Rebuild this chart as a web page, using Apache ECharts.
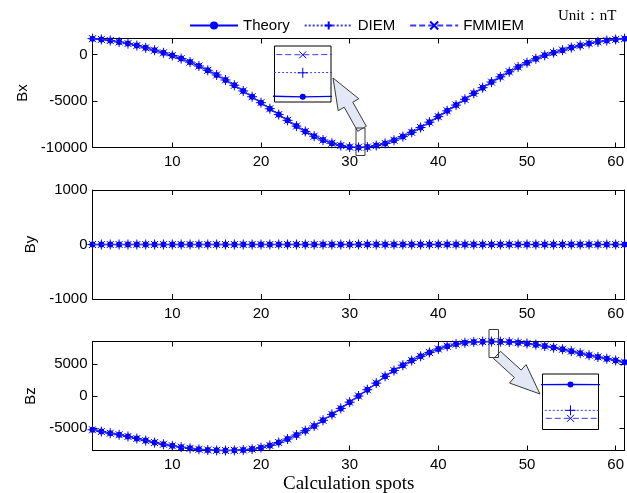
<!DOCTYPE html>
<html>
<head>
<meta charset="utf-8">
<script src="https://cdn.jsdelivr.net/npm/echarts@6/dist/echarts.min.js"></script>
<style>html,body{margin:0;padding:0;background:#fff}#c{width:627px;height:493px}</style>
</head>
<body>
<div id="c"></div>
<script>
// ---------------- data ----------------
const spots = [1,2,3,4,5,6,7,8,9,10,11,12,13,14,15,16,17,18,19,20,21,22,23,24,25,26,27,28,29,30,31,32,33,34,35,36,37,38,39,40,41,42,43,44,45,46,47,48,49,50,51,52,53,54,55,56,57,58,59,60,61];

const bxTheory = [1700,1620,1500,1350,1170,960,720,460,180,-110,-440,-820,-1240,-1700,-2200,-2740,-3310,-3920,-4540,-5180,-5830,-6460,-7080,-7700,-8270,-8780,-9200,-9540,-9790,-9950,-10000,-9950,-9790,-9560,-9220,-8830,-8370,-7850,-7280,-6680,-6060,-5440,-4820,-4180,-3570,-2970,-2400,-1860,-1340,-880,-460,-90,200,470,740,980,1190,1360,1500,1620,1700];
const bxDIEM   = [1700,1620,1500,1350,1170,960,720,460,180,-110,-440,-820,-1240,-1700,-2200,-2740,-3310,-3920,-4540,-5180,-5830,-6460,-7080,-7700,-8270,-8780,-9200,-9540,-9790,-9950,-9988,-9950,-9790,-9560,-9220,-8830,-8370,-7850,-7280,-6680,-6060,-5440,-4820,-4180,-3570,-2970,-2400,-1860,-1340,-880,-460,-90,200,470,740,980,1190,1360,1500,1620,1700];
const bxFMMIEM = [1700,1620,1500,1350,1170,960,720,460,180,-110,-440,-820,-1240,-1700,-2200,-2740,-3310,-3920,-4540,-5180,-5830,-6460,-7080,-7700,-8270,-8780,-9200,-9540,-9790,-9950,-9979,-9950,-9790,-9560,-9220,-8830,-8370,-7850,-7280,-6680,-6060,-5440,-4820,-4180,-3570,-2970,-2400,-1860,-1340,-880,-460,-90,200,470,740,980,1190,1360,1500,1620,1700];

const byTheory = [0,0,0,0,0,0,0,0,0,0,0,0,0,0,0,0,0,0,0,0,0,0,0,0,0,0,0,0,0,0,0,0,0,0,0,0,0,0,0,0,0,0,0,0,0,0,0,0,0,0,0,0,0,0,0,0,0,0,0,0,0];
const byDIEM   = [0,0,0,0,0,0,0,0,0,0,0,0,0,0,0,0,0,0,0,0,0,0,0,0,0,0,0,0,0,0,0,0,0,0,0,0,0,0,0,0,0,0,0,0,0,0,0,0,0,0,0,0,0,0,0,0,0,0,0,0,0];
const byFMMIEM = [0,0,0,0,0,0,0,0,0,0,0,0,0,0,0,0,0,0,0,0,0,0,0,0,0,0,0,0,0,0,0,0,0,0,0,0,0,0,0,0,0,0,0,0,0,0,0,0,0,0,0,0,0,0,0,0,0,0,0,0,0];

const bzTheory = [-5320,-5600,-5860,-6100,-6370,-6700,-7020,-7330,-7600,-7840,-8050,-8240,-8390,-8500,-8560,-8580,-8560,-8500,-8360,-8130,-7780,-7320,-6770,-6140,-5460,-4720,-3830,-2900,-1950,-970,0,990,2020,3100,4000,4850,5580,6240,6860,7400,7830,8170,8380,8510,8560,8580,8560,8510,8400,8260,8080,7860,7620,7360,7060,6740,6420,6140,5870,5600,5320];
const bzDIEM   = [-5320,-5600,-5860,-6100,-6370,-6700,-7020,-7330,-7600,-7840,-8050,-8240,-8390,-8500,-8560,-8580,-8560,-8500,-8360,-8130,-7780,-7320,-6770,-6140,-5460,-4720,-3830,-2900,-1950,-970,0,990,2020,3100,4000,4850,5580,6240,6860,7400,7830,8170,8380,8510,8560,8567,8560,8510,8400,8260,8080,7860,7620,7360,7060,6740,6420,6140,5870,5600,5320];
const bzFMMIEM = [-5320,-5600,-5860,-6100,-6370,-6700,-7020,-7330,-7600,-7840,-8050,-8240,-8390,-8500,-8560,-8580,-8560,-8500,-8360,-8130,-7780,-7320,-6770,-6140,-5460,-4720,-3830,-2900,-1950,-970,0,990,2020,3100,4000,4850,5580,6240,6860,7400,7830,8170,8380,8510,8560,8563,8560,8510,8400,8260,8080,7860,7620,7360,7060,6740,6420,6140,5870,5600,5320];

const xTicks  = [10,20,30,40,50,60];
const bxTicks = [-10000,-5000,0];
const byTicks = [-1000,0,1000];
const bzTicks = [-5000,0,5000];
const methods = ['Theory','DIEM','FMMIEM'];

// ---------------- styles ----------------
const BLUE = '#0000ff';
const FONT = 'Liberation Sans, Arial, sans-serif';
const SERIF = 'Liberation Serif, Times New Roman, serif';
const PLUS = 'path://M0,5L10,5M5,0L5,10';
const CROSS = 'path://M0,0L10,10M10,0L0,10';
const mstyle = {
  Theory: {symbol:'circle', symbolSize:6, itemStyle:{color:BLUE}, lineStyle:{color:BLUE, width:1.3, type:'solid'}},
  DIEM:   {symbol:PLUS, symbolSize:10, itemStyle:{color:BLUE, borderColor:BLUE, borderWidth:1}, lineStyle:{color:'#3a3aff', width:1, type:[2,2]}},
  FMMIEM: {symbol:CROSS, symbolSize:7, itemStyle:{color:BLUE, borderColor:BLUE, borderWidth:1}, lineStyle:{color:'#3a3aff', width:1, type:[6,3]}}
};

const panels = [
  {name:'Bx', vals:{Theory:bxTheory, DIEM:bxDIEM, FMMIEM:bxFMMIEM}, min:-10000, max:1720, ticks:bxTicks, top:38.5, nameGap:62},
  {name:'By', vals:{Theory:byTheory, DIEM:byDIEM, FMMIEM:byFMMIEM}, min:-1000, max:1000, ticks:byTicks, top:190, nameGap:54},
  {name:'Bz', vals:{Theory:bzTheory, DIEM:bzDIEM, FMMIEM:bzFMMIEM}, min:-8580, max:8580, ticks:bzTicks, top:341.5, nameGap:54}
];

const grid = [], xAxis = [], yAxis = [], series = [];
const axLine = {show:true, onZero:false, lineStyle:{color:'#000', width:1}};
const lbl = {color:'#000', fontSize:15, fontFamily:FONT, formatter: v => String(v)};

panels.forEach((p, g) => {
  grid.push({left:92.5, top:p.top, width:537, height:109, show:false, containLabel:false});
  const xi = xAxis.length;
  xAxis.push({type:'value', gridIndex:g, position:'bottom', min:1, max:61,
    axisLine:axLine, splitLine:{show:false},
    axisTick:{show:true, inside:true, length:5, customValues:xTicks, lineStyle:{color:'#000'}},
    axisLabel:Object.assign({show:true, margin:7, customValues:xTicks}, lbl)});
  xAxis.push({type:'value', gridIndex:g, position:'top', min:1, max:61,
    axisLine:axLine, splitLine:{show:false},
    axisTick:{show:true, inside:true, length:5, customValues:xTicks, lineStyle:{color:'#000'}},
    axisLabel:{show:false}});
  const yi = yAxis.length;
  yAxis.push({type:'value', gridIndex:g, position:'left', min:p.min, max:p.max,
    name:p.name, nameLocation:'middle', nameRotate:90, nameGap:p.nameGap,
    nameTextStyle:{color:'#000', fontSize:15, fontFamily:FONT},
    axisLine:axLine, splitLine:{show:false},
    axisTick:{show:true, inside:true, length:5, customValues:p.ticks, lineStyle:{color:'#000'}},
    axisLabel:Object.assign({show:true, margin:5, customValues:p.ticks}, lbl)});
  yAxis.push({type:'value', gridIndex:g, position:'right', min:p.min, max:p.max,
    axisLine:axLine, splitLine:{show:false},
    axisTick:{show:true, inside:true, length:5, customValues:p.ticks, lineStyle:{color:'#000'}},
    axisLabel:{show:false}});
  methods.forEach((m, k) => {
    series.push(Object.assign({type:'line', name:m, xAxisIndex:xi, yAxisIndex:yi,
      data:spots.map((x, i) => [x, p.vals[m][i]]), clip:false, animation:false,
      showAllSymbol:true, symbolKeepAspect:true, z:2+k}, JSON.parse(JSON.stringify(mstyle[m]))));
  });
});

// zoomed insets (same data, narrow axis windows)
const insets = [
  {vals:{Theory:bxTheory, DIEM:bxDIEM, FMMIEM:bxFMMIEM}, left:274.5, top:46, width:56.5, height:56, xmin:30.995, xmax:31.005, ymin:-10002.6, ymax:-9974.6},
  {vals:{Theory:bzTheory, DIEM:bzDIEM, FMMIEM:bzFMMIEM}, left:542.5, top:374, width:56, height:55.5, xmin:45.995, xmax:46.005, ymin:8557.4, ymax:8585.2}
];
insets.forEach(s => {
  const g = grid.length;
  grid.push({left:s.left, top:s.top, width:s.width, height:s.height, show:true, backgroundColor:'#fff', borderColor:'#000', borderWidth:1, z:10});
  const xi = xAxis.length;
  xAxis.push({type:'value', gridIndex:g, min:s.xmin, max:s.xmax, show:false});
  const yi = yAxis.length;
  yAxis.push({type:'value', gridIndex:g, min:s.ymin, max:s.ymax, show:false, scale:true});
  methods.forEach((m, k) => {
    series.push(Object.assign({type:'line', name:m, xAxisIndex:xi, yAxisIndex:yi,
      data:spots.map((x, i) => [x, s.vals[m][i]]), clip:true, animation:false,
      symbolKeepAspect:true, z:12+k}, JSON.parse(JSON.stringify(mstyle[m]))));
  });
});

const arrowStyle = {fill:'#e2e9f5', stroke:'#3a3a3a', lineWidth:1};
const option = {
  backgroundColor:'#fff',
  animation:false,
  grid, xAxis, yAxis, series,
  legend:{data:methods, left:184, top:13, itemWidth:48, itemHeight:10, itemGap:14,
    textStyle:{color:'#000', fontSize:15, fontFamily:FONT}},
  graphic:[
    {type:'polygon', z:50, shape:{points:[[333,78],[358.8,98.7],[352.8,102.2],[366.3,126.3],[357.7,131.3],[344.2,107.2],[338.2,110.7]]}, style:arrowStyle},
    {type:'polygon', z:50, shape:{points:[[540,394],[526.1,364.6],[521.2,370.1],[500.5,351.3],[493.7,358.7],[514.4,377.5],[509.5,383.0]]}, style:arrowStyle},
    {type:'rect', z:51, shape:{x:356, y:128, width:9, height:27.5}, style:{fill:'none', stroke:'#3a3a3a', lineWidth:1}},
    {type:'rect', z:51, shape:{x:489, y:329.5, width:9.5, height:28}, style:{fill:'none', stroke:'#3a3a3a', lineWidth:1}},
    {type:'text', z:50, left:283, top:475, style:{text:'Calculation spots', fontSize:19, fontFamily:SERIF, fill:'#000'}},
    {type:'text', z:50, left:558, top:9, style:{text:'Unit：nT', fontSize:15, fontFamily:SERIF, fill:'#000'}}
  ]
};
const chart = echarts.init(document.getElementById('c'), null, {renderer:'canvas'});
chart.setOption(option);
</script>
</body>
</html>
